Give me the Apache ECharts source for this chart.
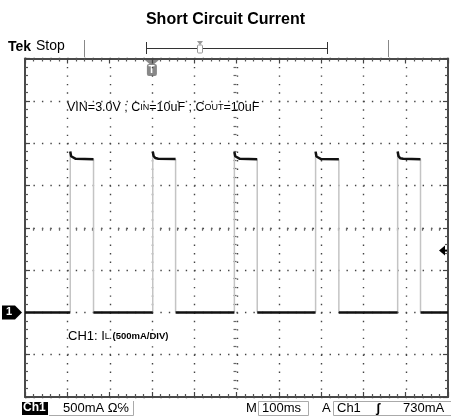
<!DOCTYPE html>
<html>
<head>
<meta charset="utf-8">
<script src="https://cdn.jsdelivr.net/npm/echarts@6/dist/echarts.min.js"></script>
<style>
  html, body { margin: 0; padding: 0; background: #fff; }
  #chart { width: 451px; height: 418px; }
</style>
</head>
<body>
<div id="chart"></div>
<script>
// time axis in ms (100ms/div), current in mA (500mA/div)
const timeTicks = [0, 100, 200, 300, 400, 500, 600, 700, 800, 900, 1000];
const currentTicks = [-1000, -500, 0, 500, 1000, 1500, 2000, 2500, 3000];

// pulse edges
const riseMs = [107, 302, 495, 687, 881];
const fallMs = [162, 356, 549, 742, 935];
const peakMA = [1900, 1900, 1895, 1900, 1900];
const flatMA = [1810, 1812, 1810, 1808, 1810];

// top of each pulse: spike then settle
const pulseTops = [
  [[107, 1900], [109, 1845], [113, 1822], [120, 1815], [162, 1810]],
  [[302, 1900], [304, 1848], [308, 1824], [315, 1816], [356, 1812]],
  [[495, 1895], [497, 1845], [501, 1822], [508, 1814], [549, 1810]],
  [[687, 1900], [689, 1842], [693, 1820], [700, 1812], [742, 1808]],
  [[881, 1900], [883, 1846], [887, 1822], [894, 1815], [935, 1810]]
];

// baseline between pulses
const baseline = [
  [[0, 0], [107, 0]],
  [[162, 0], [302, 0]],
  [[356, 0], [495, 0]],
  [[549, 0], [687, 0]],
  [[742, 0], [881, 0]],
  [[935, 0], [1000, 0]]
];

const triggerMA = 730;
const triggerMs = 300;

const flatData = [];
baseline.forEach(seg => { seg.forEach(p => flatData.push(p)); flatData.push(null); });
pulseTops.forEach(seg => { seg.forEach(p => flatData.push(p)); flatData.push(null); });

const edgeData = [];
riseMs.forEach((t, i) => {
  edgeData.push([t, 0], [t, peakMA[i]], null);
  edgeData.push([fallMs[i], flatMA[i]], [fallMs[i], 0], null);
});

// vertical graticule columns (inner division lines)
const columnData = timeTicks.slice(1, -1).map(t => [t, 0]);

function frameAxis(pos, isX, showSplit) {
  return {
    type: 'value',
    position: pos,
    min: isX ? timeTicks[0] : currentTicks[0],
    max: isX ? timeTicks[timeTicks.length - 1] : currentTicks[currentTicks.length - 1],
    interval: isX ? 100 : 500,
    axisLabel: { show: false },
    axisLine: { show: true, onZero: false, lineStyle: { color: '#4a4a4a', width: 2 } },
    axisTick: { show: true, inside: true, length: 5, lineStyle: { color: '#444', width: 1.2 } },
    minorTick: { show: true, splitNumber: 5, length: 3, lineStyle: { color: '#555', width: 1.2 } },
    splitLine: { show: showSplit, lineStyle: { color: '#444', width: 1.4, type: [1.4, 7.06] } }
  };
}

const centerX = frameAxis('bottom', true, false);
centerX.offset = -169.25;
centerX.axisLine = { show: false, onZero: false };
centerX.axisTick = { show: false };
centerX.minorTick = { show: true, splitNumber: 5, length: 3, lineStyle: { color: '#666', width: 1.2 } };

const centerY = frameAxis('left', false, false);
centerY.offset = -211.5;
centerY.axisLine = { show: false, onZero: false };
centerY.axisTick = { show: false };
centerY.minorTick = { show: true, splitNumber: 5, length: 3, lineStyle: { color: '#666', width: 1.2 } };

const font = '"Liberation Sans", Arial, sans-serif';

const chart = echarts.init(document.getElementById('chart'));
chart.setOption({
  animation: false,
  backgroundColor: '#fff',
  title: {
    text: 'Short Circuit Current',
    left: 'center',
    top: 7,
    textStyle: { fontFamily: font, fontSize: 16, fontWeight: 'bold', color: '#000' }
  },
  grid: { left: 25, right: 3, top: 58.5, bottom: 21 },
  xAxis: [frameAxis('bottom', true, false), frameAxis('top', true, false), centerX],
  yAxis: [frameAxis('left', false, true), frameAxis('right', false, false), centerY],
  series: [
    {
      // dotted vertical division lines, placed by the time scale
      type: 'custom',
      data: columnData,
      silent: true,
      z: 1,
      renderItem: function (params, api) {
        const x = Math.round(api.coord([api.value(0), 0])[0]) + 0.5;
        const cs = params.coordSys;
        return {
          type: 'line',
          shape: { x1: x, y1: cs.y, x2: x, y2: cs.y + cs.height },
          style: { stroke: '#444', lineWidth: 1.4, lineDash: [1.4, 7.06] }
        };
      }
    },
    {
      type: 'line',
      data: edgeData,
      showSymbol: false,
      connectNulls: false,
      lineStyle: { color: '#c4c4c4', width: 1.5 },
      z: 3
    },
    {
      type: 'line',
      data: flatData,
      showSymbol: false,
      connectNulls: false,
      lineStyle: { color: '#111', width: 2.5 },
      z: 4
    }
  ]
});

// markers placed on the data scales
const gy = chart.convertToPixel({ yAxisIndex: 0 }, 0);
const ty = chart.convertToPixel({ yAxisIndex: 0 }, triggerMA);
const tx = chart.convertToPixel({ xAxisIndex: 0 }, triggerMs);

chart.setOption({
  graphic: [
    { type: 'text', left: 8, top: 40, style: { text: 'Tek', font: 'bold 14px ' + font, fill: '#000' } },
    { type: 'text', left: 36, top: 39, style: { text: 'Stop', font: '14px ' + font, fill: '#000' } },
    { type: 'line', shape: { x1: 84.5, y1: 40, x2: 84.5, y2: 57 }, style: { stroke: '#888', lineWidth: 1 } },
    { type: 'line', shape: { x1: 388.5, y1: 40, x2: 388.5, y2: 57 }, style: { stroke: '#888', lineWidth: 1 } },
    { type: 'line', shape: { x1: 146, y1: 48.5, x2: 327, y2: 48.5 }, style: { stroke: '#333', lineWidth: 1 } },
    { type: 'line', shape: { x1: 146.5, y1: 42, x2: 146.5, y2: 54 }, style: { stroke: '#333', lineWidth: 1 } },
    { type: 'line', shape: { x1: 327.5, y1: 42, x2: 327.5, y2: 54 }, style: { stroke: '#333', lineWidth: 1 } },
    { type: 'rect', shape: { x: 197.5, y: 45, width: 5, height: 8, r: 1 }, style: { fill: '#fff', stroke: '#999', lineWidth: 1 } },
    { type: 'polygon', shape: { points: [[197, 41], [203, 41], [200, 45]] }, style: { fill: '#999' } },
    {
      type: 'text', left: 67, top: 101,
      style: {
        text: '{n|VIN=3.0V ; C}{s|IN}{n|=10uF ; C}{s|OUT}{n|=10uF}',
        rich: {
          n: { fontFamily: font, fontSize: 12.5, fill: '#000' },
          s: { fontFamily: font, fontSize: 9, fill: '#000' }
        }
      }
    },
    {
      type: 'text', left: 68, top: 330,
      style: {
        text: '{n|CH1: I}{s|L}{p| (500mA/DIV)}',
        rich: {
          n: { fontFamily: font, fontSize: 13, fill: '#000' },
          s: { fontFamily: font, fontSize: 9, fill: '#000' },
          p: { fontFamily: font, fontSize: 9.5, fontWeight: 'bold', fill: '#000' }
        }
      }
    },
    // ground and trigger markers
    { type: 'polygon', shape: { points: [[2, gy - 7], [15, gy - 7], [22, gy], [15, gy + 7], [2, gy + 7]] }, style: { fill: '#000' } },
    { type: 'text', left: 6, top: gy - 6, style: { text: '1', font: 'bold 11px ' + font, fill: '#fff' } },
    { type: 'polygon', shape: { points: [[439, ty], [445, ty - 5], [445, ty + 5]] }, style: { fill: '#000' } },
    { type: 'line', shape: { x1: 444, y1: ty, x2: 447, y2: ty }, style: { stroke: '#000', lineWidth: 2 } },
    { type: 'polygon', shape: { points: [[tx - 7, 60], [tx + 7, 60], [tx, 66]] }, style: { fill: '#888' } },
    { type: 'rect', shape: { x: tx - 5, y: 64, width: 10, height: 12, r: 2 }, style: { fill: '#888' } },
    { type: 'text', left: tx - 3.5, top: 65, style: { text: 'T', font: 'bold 10px ' + font, fill: '#fff' } },
    // bottom status bar
    { type: 'rect', shape: { x: 22, y: 402, width: 26, height: 13 }, style: { fill: '#000' } },
    { type: 'text', left: 23, top: 402, style: { text: 'Ch1', font: 'bold 12px ' + font, fill: '#fff' } },
    { type: 'polyline', shape: { points: [[49, 415.5], [133.5, 415.5], [133.5, 401]] }, style: { stroke: '#aaa', lineWidth: 1, fill: null } },
    { type: 'text', left: 63, top: 402, style: { text: '500mA Ω℅', font: '13px ' + font, fill: '#000' } },
    { type: 'text', left: 246, top: 402, style: { text: 'M', font: '13px ' + font, fill: '#000' } },
    { type: 'rect', shape: { x: 258.5, y: 401.5, width: 50, height: 14 }, style: { fill: null, stroke: '#aaa', lineWidth: 1 } },
    { type: 'text', left: 262, top: 402, style: { text: '100ms', font: '13px ' + font, fill: '#000' } },
    { type: 'text', left: 322, top: 402, style: { text: 'A', font: '13px ' + font, fill: '#000' } },
    { type: 'rect', shape: { x: 333.5, y: 401.5, width: 120, height: 14 }, style: { fill: null, stroke: '#aaa', lineWidth: 1 } },
    { type: 'text', left: 337, top: 402, style: { text: 'Ch1', font: '13px ' + font, fill: '#000' } },
    { type: 'text', left: 376, top: 402, style: { text: '\u0283', font: 'bold 13px ' + font, fill: '#000' } },
    { type: 'text', left: 403, top: 402, style: { text: '730mA', font: '13px ' + font, fill: '#000' } }
  ]
});
</script>
</body>
</html>
